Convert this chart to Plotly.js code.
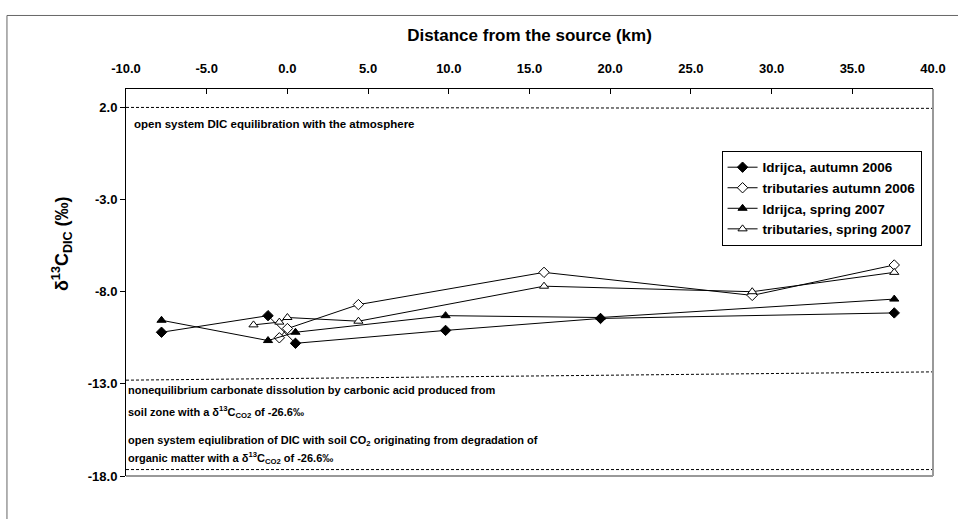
<!DOCTYPE html>
<html>
<head>
<meta charset="utf-8">
<script src="https://cdn.plot.ly/plotly-3.0.1.min.js"></script>
<style>html,body{margin:0;padding:0;background:#fff;}#chart{width:958px;height:519px;}</style>
</head>
<body>
<div id="chart"></div>
<script>
// Data
const seriesNames = ["Idrijca, autumn 2006", "tributaries autumn 2006", "Idrijca, spring 2007", "tributaries, spring 2007"];
const idrAutX = [-7.8, -1.2, 0.5, 9.8, 19.4, 37.6];
const idrAutY = [-10.2, -9.3, -10.8, -10.1, -9.45, -9.15];
const tribAutX = [-0.5, 0.0, 4.4, 15.9, 28.8, 37.6];
const tribAutY = [-10.5, -10.0, -8.7, -6.95, -8.2, -6.55];
const idrSprX = [-7.8, -1.2, 0.5, 9.8, 19.4, 37.6];
const idrSprY = [-9.55, -10.65, -10.2, -9.3, -9.4, -8.4];
const tribSprX = [-2.1, -0.5, 0.0, 4.4, 15.9, 28.8, 37.6];
const tribSprY = [-9.8, -9.65, -9.4, -9.6, -7.7, -8.0, -6.95];
const xTicks = [-10, -5, 0, 5, 10, 15, 20, 25, 30, 35, 40];
const xTickText = ["-10.0", "-5.0", "0.0", "5.0", "10.0", "15.0", "20.0", "25.0", "30.0", "35.0", "40.0"];
const yTicks = [2, -3, -8, -13, -18];
const yTickText = ["2.0", "-3.0", "-8.0", "-13.0", "-18.0"];
// reference (dashed) boundary lines: [x0, y0, x1, y1]
const refLines = [[-10, 2.0, 40, 1.95], [-10, -12.8, 40, -12.35], [-10, -17.65, 40, -17.65]];
const notes = [
  {text: "open system DIC equilibration with the atmosphere", x: -9.65, y: 1.1, size: 11.5},
  {text: "nonequilibrium carbonate dissolution by carbonic acid produced from", x: -10.0, y: -13.35, size: 11},
  {text: "soil zone with a δ<sup>13</sup>C<sub>CO2</sub> of -26.6‰", x: -10.0, y: -14.5, size: 11},
  {text: "open system eqiulibration of DIC with soil CO<sub>2</sub> originating from degradation of", x: -10.0, y: -16.1, size: 11},
  {text: "organic matter with a δ<sup>13</sup>C<sub>CO2</sub> of -26.6‰", x: -10.0, y: -17.05, size: 11}
];

const FONT = "Liberation Sans, Arial, sans-serif";

function mk(name, xs, ys, symbol, fill, size) {
  return {
    type: "scatter", mode: "lines+markers", name: name, x: xs, y: ys,
    line: {color: "#000", width: 1},
    marker: {symbol: symbol, size: size, color: fill, line: {color: "#000", width: 1}}
  };
}

const traces = [
  mk(seriesNames[0], idrAutX, idrAutY, "diamond", "#000", 8),
  mk(seriesNames[1], tribAutX, tribAutY, "diamond", "#fff", 8),
  mk(seriesNames[2], idrSprX, idrSprY, "triangle-up", "#000", 8),
  mk(seriesNames[3], tribSprX, tribSprY, "triangle-up", "#fff", 8)
];

const shapes = refLines.map(l => ({
  type: "line", xref: "x", yref: "y", x0: l[0], y0: l[1], x1: l[2], y1: l[3],
  line: {color: "#000", width: 1, dash: "3px,2px"}, layer: "above"
}));
// plot area right and bottom frame (gray)
shapes.push({type: "line", xref: "paper", yref: "paper", x0: 1, y0: 0, x1: 1, y1: 1, line: {color: "#999", width: 2}});
shapes.push({type: "line", xref: "paper", yref: "paper", x0: 0, y0: 0, x1: 1, y1: 0, line: {color: "#999", width: 2}});
// outer picture frame (left and top)
shapes.push({type: "line", xref: "paper", yref: "paper", x0: -0.1475, y0: -0.2, x1: -0.1475, y1: 1.19, line: {color: "#666", width: 1}});
shapes.push({type: "line", xref: "paper", yref: "paper", x0: -0.1475, y0: 1.19, x1: 1.05, y1: 1.19, line: {color: "#666", width: 1}});

const annotations = notes.map(n => ({
  text: n.text, x: n.x, y: n.y, xref: "x", yref: "y", xanchor: "left", yanchor: "middle",
  showarrow: false, font: {family: FONT, size: n.size, color: "#000", weight: "bold"}
}));
// y-axis title (placed above plot centre like the reference)
annotations.push({
  text: "δ<sup>13</sup>C<sub>DIC</sub> (‰)", xref: "paper", yref: "paper", x: -0.079, y: 0.60,
  xanchor: "center", yanchor: "middle", textangle: -90, showarrow: false,
  font: {family: FONT, size: 18, color: "#000", weight: "bold"}
});

const layout = {
  width: 958, height: 519,
  margin: {l: 126, r: 25, t: 89, b: 43},
  paper_bgcolor: "#fff", plot_bgcolor: "#fff",
  font: {family: FONT, color: "#000"},
  showlegend: true,
  legend: {
    x: 0.738, y: 0.84, xanchor: "left", yanchor: "top",
    bordercolor: "#000", borderwidth: 1, bgcolor: "#fff",
    font: {family: FONT, size: 13.5, color: "#000", weight: "bold"},
    tracegroupgap: 0, itemwidth: 30
  },
  xaxis: {
    side: "top", range: [-10, 40], tickvals: xTicks, ticktext: xTickText,
    showgrid: false, zeroline: false, showline: true, linecolor: "#000", linewidth: 1,
    ticks: "inside", ticklen: 5, tickcolor: "#000", ticklabelstandoff: 10,
    tickfont: {family: FONT, size: 13, weight: "bold"},
    title: {text: "Distance from the source (km)", font: {family: FONT, size: 17, weight: "bold"}, standoff: 14}
  },
  yaxis: {
    range: [-18, 3], tickvals: yTicks, ticktext: yTickText,
    showgrid: false, zeroline: false, showline: true, linecolor: "#000", linewidth: 1,
    ticks: "outside", ticklen: 5, tickcolor: "#000",
    tickfont: {family: FONT, size: 13, weight: "bold"}
  },
  shapes: shapes,
  annotations: annotations
};

Plotly.newPlot("chart", traces, layout, {staticPlot: true, displayModeBar: false});
</script>
</body>
</html>
